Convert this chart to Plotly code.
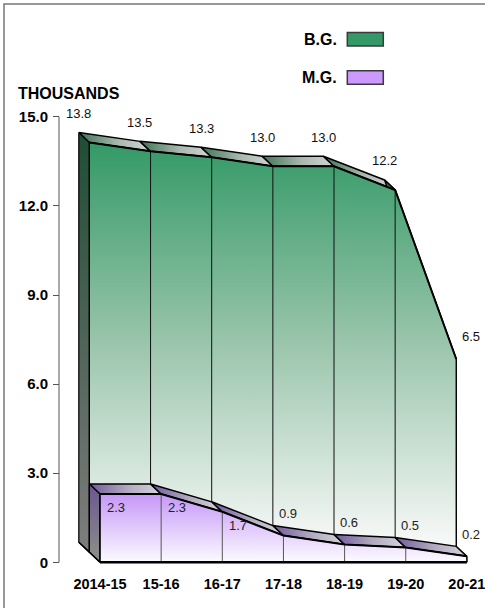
import plotly.graph_objects as go

# ---- data -------------------------------------------------------------
categories = ["2014-15", "15-16", "16-17", "17-18", "18-19", "19-20", "20-21"]
bg_values = [13.8, 13.5, 13.3, 13.0, 13.0, 12.2, 6.5]   # B.G.
mg_values = [2.3, 2.3, 1.7, 0.9, 0.6, 0.5, 0.2]         # M.G.
y_tick_vals = [0, 3, 6, 9, 12, 15]
y_tick_text = ["0", "3.0", "6.0", "9.0", "12.0", "15.0"]

# ---- layout geometry (pixels) ------------------------------------------
W, H = 485, 608
X0_PX, STEP_PX = 100.0, 61.15      # front-plane position of the first category, category spacing
Y0_PX, UNIT_PX = 562.3, 29.7       # pixel row of zero, pixels per thousand
AXIS_X_PX = 59.0
DEPTH_DX_PX, DEPTH_DY_PX = -10.6, 10.0   # shift per depth step towards the back

DDX = DEPTH_DX_PX / STEP_PX
DDY = DEPTH_DY_PX / UNIT_PX

X_RANGE = [-X0_PX / STEP_PX, (W - X0_PX) / STEP_PX]
Y_RANGE = [-(H - Y0_PX) / UNIT_PX, Y0_PX / UNIT_PX]

FONT = "Liberation Sans, Arial, sans-serif"


def proj(i, v, d):
    """Oblique projection of category i, value v at depth d (0 = back, 2 = front)."""
    k = 2 - d
    return i + k * DDX, v + k * DDY


def px_x(p):
    return p / W


def px_y(p):
    return 1 - p / H


fig = go.Figure()


def add_poly(pts, grad, line_color="black", line_width=1.2):
    xs = [p[0] for p in pts] + [pts[0][0]]
    ys = [p[1] for p in pts] + [pts[0][1]]
    fig.add_trace(go.Scatter(
        x=xs, y=ys, mode="lines", fill="toself",
        fillgradient=grad,
        line=dict(color=line_color, width=line_width),
        hoverinfo="skip", showlegend=False,
    ))


def add_line(pts, color="black", width=1.0):
    xs, ys = [], []
    for seg in pts:
        if seg is None:
            xs.append(None)
            ys.append(None)
        else:
            xs.append(seg[0])
            ys.append(seg[1])
    fig.add_trace(go.Scatter(
        x=xs, y=ys, mode="lines", line=dict(color=color, width=width),
        hoverinfo="skip", showlegend=False,
    ))


def draw_series(values, d_back, d_front, front_scale, ribbon_scale, side_scale,
                divider_color, bottom_width):
    n = len(values)
    # slanted top ribbons, one per segment
    for j in range(n - 1):
        pts = [proj(j, values[j], d_back), proj(j + 1, values[j + 1], d_back),
               proj(j + 1, values[j + 1], d_front), proj(j, values[j], d_front)]
        add_poly(pts, dict(type="horizontal", colorscale=ribbon_scale), "black", 1.5)
    # left side wall
    side = [proj(0, values[0], d_back), proj(0, values[0], d_front),
            proj(0, 0, d_front), proj(0, 0, d_back)]
    add_poly(side, dict(type="vertical", colorscale=side_scale,
                        start=proj(0, 0, d_back)[1], stop=proj(0, values[0], d_back)[1]),
             "black", 1.2)
    # front face
    top = [proj(i, values[i], d_front) for i in range(n)]
    face = top + [proj(n - 1, 0, d_front), proj(0, 0, d_front)]
    add_poly(face, dict(type="vertical", colorscale=front_scale,
                        start=proj(0, 0, d_front)[1],
                        stop=proj(0, max(values), d_front)[1]),
             "black", 1.0)
    # category dividers on the front face
    div = []
    for i in range(1, n - 1):
        div += [proj(i, 0, d_front), proj(i, values[i], d_front), None]
    add_line(div, divider_color, 1.0)
    # outline edges
    add_line(top, "black", 2.0)
    add_line([proj(0, 0, d_front), proj(0, values[0], d_front)], "black", 1.2)
    add_line([proj(n - 1, 0, d_front), proj(n - 1, values[-1], d_front)], "black", 1.2)
    add_line([proj(0, 0, d_front), proj(n - 1, 0, d_front)], "black", bottom_width)
    add_line([proj(0, 0, d_back), proj(0, 0, d_front)], "black", 1.5)


# B.G. sits at the back, M.G. in front of it
draw_series(
    bg_values, 0, 1,
    front_scale=[[0, "#fbfbfb"], [0.5, "#9cc6ad"], [1, "#339966"]],
    ribbon_scale=[[0, "#3f7456"], [0.55, "#a9b8ae"], [1, "#d2d6d3"]],
    side_scale=[[0, "#7c7c7c"], [1, "#1f4d34"]],
    divider_color="#111111", bottom_width=1.2,
)
draw_series(
    mg_values, 1, 2,
    front_scale=[[0, "#fcfbff"], [1, "#c597f7"]],
    ribbon_scale=[[0, "#715a9c"], [0.55, "#b3acc0"], [1, "#d6d4da"]],
    side_scale=[[0, "#8a8a8a"], [1, "#6a5590"]],
    divider_color="#555555", bottom_width=2.6,
)

annotations = []

# B.G. value labels, above the back edge
for i, v in enumerate(bg_values):
    if i == len(bg_values) - 1:
        x, y = proj(i, v, 1)
        annotations.append(dict(x=x, y=y, xref="x", yref="y", text=f"{v:.1f}",
                                showarrow=False, xanchor="left", yanchor="middle",
                                xshift=4, yshift=23,
                                font=dict(family=FONT, size=13, color="#111")))
    else:
        x, y = proj(i, v, 0)
        annotations.append(dict(x=x, y=y, xref="x", yref="y", text=f"{v:.1f}",
                                showarrow=False, xanchor="center", yanchor="middle",
                                yshift=19,
                                font=dict(family=FONT, size=13, color="#111")))

# M.G. value labels: inside the face when there is room, otherwise above it
for i, v in enumerate(mg_values):
    if v >= 1.0:
        x, y = proj(i, v, 2)
        annotations.append(dict(x=x, y=y, xref="x", yref="y", text=f"{v:.1f}",
                                showarrow=False, xanchor="left", yanchor="middle",
                                xshift=5, yshift=-14,
                                font=dict(family=FONT, size=13, color="#222")))
    else:
        x, y = proj(i, v, 1)
        annotations.append(dict(x=x, y=y, xref="x", yref="y", text=f"{v:.1f}",
                                showarrow=False, xanchor="left", yanchor="middle",
                                xshift=4, yshift=12,
                                font=dict(family=FONT, size=13, color="#222")))

# axis title
annotations.append(dict(x=px_x(16), y=px_y(94), xref="paper", yref="paper",
                        text="THOUSANDS", showarrow=False, xanchor="left", yanchor="middle",
                        font=dict(family=FONT, size=16, color="black", weight="bold")))

# legend
legend_items = [("B.G.", "#339966", 39.2), ("M.G.", "#cc99ff", 77.5)]
shapes = []
for name, color, cy in legend_items:
    annotations.append(dict(x=px_x(338.5), y=px_y(cy), xref="paper", yref="paper",
                            text=name, showarrow=False, xanchor="right", yanchor="middle",
                            font=dict(family=FONT, size=16, color="black", weight="bold")))
    shapes.append(dict(type="rect", xref="paper", yref="paper",
                       x0=px_x(347.3), x1=px_x(383.3), y0=px_y(cy + 6.8), y1=px_y(cy - 6.8),
                       fillcolor=color, line=dict(color="#3a3a3a", width=1.5)))

# value axis line
shapes.append(dict(type="line", xref="paper", yref="y",
                   x0=px_x(AXIS_X_PX), x1=px_x(AXIS_X_PX), y0=0, y1=15,
                   line=dict(color="#555555", width=1)))
# frame
shapes.append(dict(type="rect", xref="paper", yref="paper",
                   x0=px_x(4), y0=px_y(4), x1=px_x(W + 20), y1=px_y(H + 20),
                   line=dict(color="#777777", width=1.5)))

fig.update_layout(
    width=W, height=H,
    margin=dict(l=0, r=0, t=0, b=0, autoexpand=False),
    paper_bgcolor="white", plot_bgcolor="white",
    showlegend=False,
    annotations=annotations,
    shapes=shapes,
    xaxis=dict(range=X_RANGE, anchor="free", position=(H - Y0_PX) / H,
               tickmode="array", tickvals=list(range(len(categories))), ticktext=categories,
               ticks="", showline=False, showgrid=False, zeroline=False,
               ticklabelstandoff=11, ticklabeloverflow="allow",
               tickfont=dict(family=FONT, size=14.5, color="black", weight="bold")),
    yaxis=dict(range=Y_RANGE, anchor="free", position=px_x(AXIS_X_PX),
               tickmode="array", tickvals=y_tick_vals, ticktext=y_tick_text,
               ticks="outside", ticklen=6, tickcolor="#555555", tickwidth=1,
               showline=False, showgrid=False, zeroline=False,
               ticklabelstandoff=2,
               tickfont=dict(family=FONT, size=15, color="black", weight="bold")),
)

fig.write_html("out.html")
